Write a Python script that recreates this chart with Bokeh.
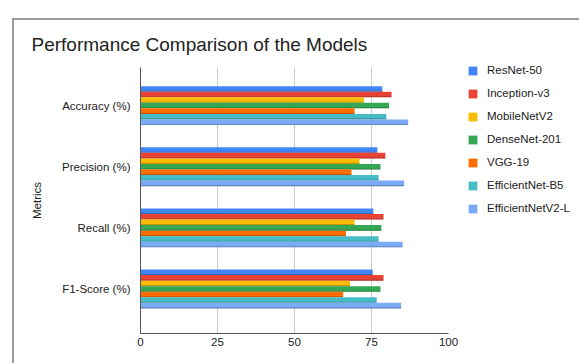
from bokeh.plotting import figure
from bokeh.models import Range1d, FixedTicker, Legend, LegendItem, ColumnDataSource
from bokeh.embed import file_html
from bokeh.resources import INLINE

# Metrics shown on the category axis (top to bottom)
categories = ["Accuracy (%)", "Precision (%)", "Recall (%)", "F1-Score (%)"]

# Models in legend order
models = ["ResNet-50", "Inception-v3", "MobileNetV2", "DenseNet-201",
          "VGG-19", "EfficientNet-B5", "EfficientNetV2-L"]

# Scores per model, one value per metric
resnet50 = [78.5, 76.9, 75.6, 75.4]
inception_v3 = [81.5, 79.5, 78.9, 78.9]
mobilenet_v2 = [72.5, 71.1, 69.5, 68.0]
densenet201 = [80.7, 77.9, 78.2, 77.9]
vgg19 = [69.5, 68.5, 66.7, 65.8]
efficientnet_b5 = [79.8, 77.3, 77.3, 76.7]
efficientnetv2_l = [86.9, 85.6, 85.1, 84.6]

x_ticks = [0, 25, 50, 75, 100]

series = [resnet50, inception_v3, mobilenet_v2, densenet201,
          vgg19, efficientnet_b5, efficientnetv2_l]
colors = ["#4285F4", "#EA4335", "#FBBC04", "#34A853",
          "#FF6D01", "#46BDC6", "#7BAAF7"]

FONT = "Liberation Sans"
TEXT = "#222222"

p = figure(frame_width=308, frame_height=266,
           x_range=Range1d(0, 100), y_range=Range1d(3.728, -0.623),
           output_backend="svg", toolbar_location=None,
           min_border_left=126, min_border_right=131,
           min_border_top=47, min_border_bottom=30)
p.styles = {"margin-left": "12px", "margin-top": "18px",
            "border-left": "2px solid #9a9a9a", "border-top": "2px solid #9a9a9a"}
p.outline_line_color = None
p.background_fill_color = "white"
p.border_fill_color = "white"

bar_h = 0.0908
n = len(models)
items = []
for j, (name, vals, col) in enumerate(zip(models, series, colors)):
    ys = [k + (j - (n - 1) / 2) * bar_h for k in range(len(categories))]
    src = ColumnDataSource(dict(y=ys, right=vals))
    r = p.hbar(y="y", left=0, right="right", height=bar_h, source=src,
               fill_color=col, line_color=None)
    # thin darker strip along the lower edge of each bar
    strip = 0.018
    shade = ColumnDataSource(dict(y=[v + bar_h / 2 - strip / 2 for v in ys], right=vals))
    p.hbar(y="y", left=0, right="right", height=strip, source=shade,
           fill_color="black", fill_alpha=0.22, line_color=None)
    items.append(LegendItem(label=name, renderers=[r]))

# Title
p.title.text = "Performance Comparison of the Models"
p.title.text_font = FONT
p.title.text_font_size = "19px"
p.title.text_font_style = "normal"
p.title.text_color = TEXT
p.title.align = "left"
p.title.vertical_align = "top"
p.title.offset = -109
p.title.standoff = 22

# X axis
xa = p.xaxis[0]
xa.ticker = FixedTicker(ticks=x_ticks)
xa.major_tick_line_color = None
xa.minor_tick_line_color = None
xa.axis_line_color = "#555555"
xa.major_label_text_font = FONT
xa.major_label_text_font_size = "11.5px"
xa.major_label_text_color = TEXT
xa.major_label_standoff = -2

# Y axis (categories)
ya = p.yaxis[0]
ya.ticker = FixedTicker(ticks=list(range(len(categories))))
ya.major_label_overrides = {i: c for i, c in enumerate(categories)}
ya.major_tick_line_color = None
ya.minor_tick_line_color = None
ya.axis_line_color = "#555555"
ya.major_label_text_font = FONT
ya.major_label_text_font_size = "11.5px"
ya.major_label_text_color = TEXT
ya.major_label_standoff = 4
ya.axis_label = "Metrics"
ya.axis_label_text_font = FONT
ya.axis_label_text_font_size = "11.5px"
ya.axis_label_text_font_style = "normal"
ya.axis_label_text_color = TEXT
ya.axis_label_standoff = 16

p.xgrid.grid_line_color = "#cccccc"
p.xgrid.ticker = FixedTicker(ticks=x_ticks)
p.ygrid.grid_line_color = None

legend = Legend(items=items, location=(19, 119), orientation="vertical",
                glyph_width=11, glyph_height=11, label_height=11, spacing=11,
                padding=0, margin=0, border_line_color=None,
                background_fill_alpha=0, label_standoff=9,
                label_text_font=FONT, label_text_font_size="11.5px",
                label_text_color=TEXT)
p.add_layout(legend, "right")

open("out.html", "w").write(file_html(p, INLINE))
